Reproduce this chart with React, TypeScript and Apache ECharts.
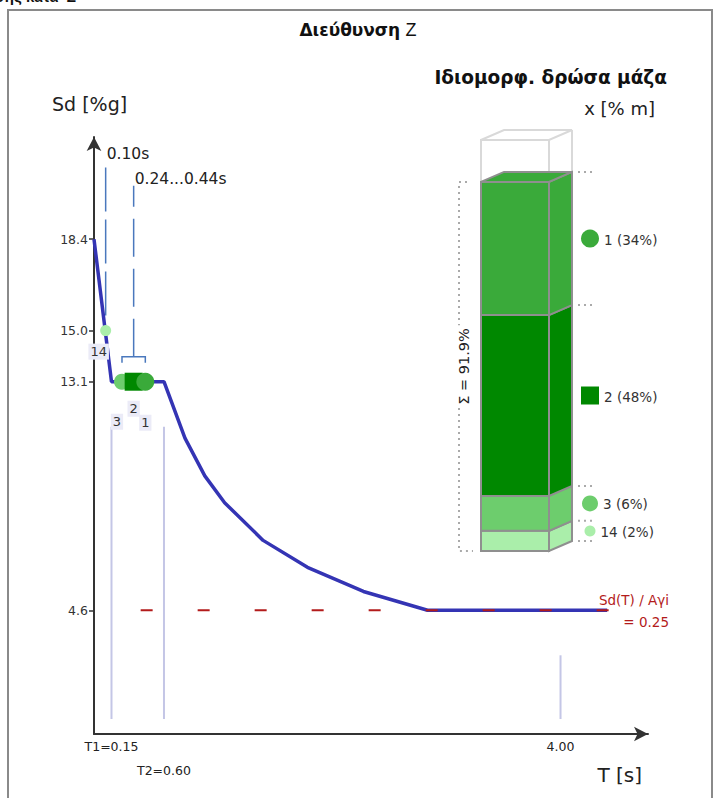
import React, { useEffect, useRef } from "react";
import * as echarts from "echarts";

// ---- spectrum (T [s] -> Sd [%g]) ----
const specT = [0, 0.15, 0.6, 0.78, 0.95, 1.12, 1.45, 1.83, 2.31, 2.86, 4.4];
const specSd = [18.4, 13.1, 13.1, 11.0, 9.6, 8.6, 7.2, 6.2, 5.3, 4.6, 4.6];

// ---- axis ticks ----
const yTickValues = [4.6, 13.1, 15.0, 18.4];
const xTickValues = [0.15, 0.6, 4.0];
const xTickLabels = ["T1=0.15", "T2=0.60", "4.00"];
const xTickLowerRow = [false, true, false];

// ---- modes ----
const modeNames = ["1", "2", "3", "14"];
const modeT = [0.44, 0.34, 0.24, 0.1];
const modeSd = [13.1, 13.1, 13.1, 15.0];
const massPct = [34, 48, 6, 2];
// column segment heights as drawn (% of the box height)
const columnShown = [32.4, 44.0, 8.5, 4.9];
const massSum = 91.9;

// ---- reference level ----
const refLevel = 4.6;
const refRatio = 0.25;
const refSpanT = [0.4, 4.93];

// ---- guide verticals ----
const vLineT = [0.15, 0.6, 4.0];
const vLineSd = [13.1, 13.1, 4.6];

// ---- styles ----
const FONT = "DejaVu Sans, Verdana, sans-serif";
const HEAD = "Liberation Sans, Arial, sans-serif";
const modeColor = ["#3aaa3a", "#008800", "#6dcd6d", "#aaeeaa"];
const modeSymbol = ["circle", "rect", "circle", "circle"];
const modeSize = [18, 18, 16, 11];
const labelOffset = [
  [0, 41],
  [0, 27],
  [-5, 40],
  [-7, 21],
];
const DX = 23;
const DY = -10;

export default function App() {
  const ref = useRef<HTMLDivElement>(null);

  useEffect(() => {
    const chart = echarts.init(ref.current!, null, { renderer: "svg" });

    // stack bottom -> top: 14, 3, 2, 1
    const stackOrder = [3, 2, 1, 0];
    let acc = 0;
    const stackData = stackOrder.map((mi, k) => {
      const base = acc;
      acc += columnShown[mi];
      return [mi, base, acc, k === stackOrder.length - 1 ? 1 : 0];
    });
    const stackTop = acc;

    const scatterSeries = [3, 2, 1, 0].map((i) => ({
      type: "scatter",
      xAxisIndex: 0,
      yAxisIndex: 0,
      z: 5,
      silent: true,
      symbol: modeSymbol[i],
      symbolSize: modeSize[i],
      itemStyle: { color: modeColor[i], opacity: 1 },
      data: [[modeT[i], modeSd[i]]],
      label: {
        show: true,
        position: "inside",
        offset: labelOffset[i],
        formatter: modeNames[i],
        color: "#333",
        fontSize: 13,
        fontFamily: FONT,
        backgroundColor: "#ebebf7",
        padding: [2, 2, 1, 2],
      },
    }));

    const lo = Math.min(modeT[0], modeT[1], modeT[2]);
    const hi = Math.max(modeT[0], modeT[1], modeT[2]);

    const labelFor = (v: number) => {
      const idx = xTickValues.findIndex((t) => Math.abs(t - v) < 1e-6);
      return idx >= 0 ? xTickLabels[idx] : "";
    };
    const upperVals = xTickValues.filter((_, i) => !xTickLowerRow[i]);
    const lowerVals = xTickValues.filter((_, i) => xTickLowerRow[i]);
    const xLabelStyle = {
      showMinLabel: true,
      showMaxLabel: true,
      hideOverlap: false,
      formatter: labelFor,
      fontSize: 12.5,
      color: "#222",
      fontFamily: FONT,
    };

    const option: any = {
      animation: false,
      backgroundColor: "#fff",
      graphic: [
        {
          type: "rect",
          silent: true,
          shape: { x: 8, y: 10, width: 704, height: 800 },
          style: { fill: "none", stroke: "#8a8a8a", lineWidth: 2 },
        },
        {
          type: "text",
          silent: true,
          x: 76,
          y: 4,
          style: {
            text: "Φάσμα απόκρισης κατά  Z",
            fill: "#111",
            fontSize: 15,
            fontWeight: "bold",
            fontFamily: HEAD,
            align: "right",
            verticalAlign: "bottom",
          },
        },
        {
          type: "text",
          silent: true,
          x: 358,
          y: 30,
          style: {
            text: "{b|Διεύθυνση} {z|Z}",
            rich: {
              b: { fontWeight: "bold", fontSize: 17, fontFamily: FONT, fill: "#111" },
              z: { fontSize: 18, fontFamily: HEAD, fill: "#111" },
            },
            fill: "#111",
            fontSize: 17,
            fontFamily: FONT,
            align: "center",
            verticalAlign: "middle",
          },
        },
        {
          type: "text",
          silent: true,
          x: 667,
          y: 77,
          style: {
            text: "Ιδιομορφ. δρώσα μάζα",
            fill: "#111",
            fontSize: 18.5,
            fontWeight: "bold",
            fontFamily: FONT,
            align: "right",
            verticalAlign: "middle",
          },
        },
        {
          type: "text",
          silent: true,
          x: 655,
          y: 108,
          style: {
            text: "x [% m]",
            fill: "#222",
            fontSize: 18,
            fontFamily: FONT,
            align: "right",
            verticalAlign: "middle",
          },
        },
        {
          type: "text",
          silent: true,
          x: 52,
          y: 104,
          style: {
            text: "Sd [%g]",
            fill: "#222",
            fontSize: 19,
            fontFamily: FONT,
            align: "left",
            verticalAlign: "middle",
          },
        },
        {
          type: "text",
          silent: true,
          x: 642,
          y: 775,
          style: {
            text: "T [s]",
            fill: "#222",
            fontSize: 20,
            fontFamily: FONT,
            align: "right",
            verticalAlign: "middle",
          },
        },
      ],
      grid: [
        { left: 94, top: 137, width: 554, height: 597 },
        { left: 481, top: 140, width: 68, height: 411 },
      ],
      xAxis: [
        {
          gridIndex: 0,
          type: "value",
          position: "bottom",
          min: 0,
          max: 4.75,
          axisLine: {
            show: true,
            lineStyle: { color: "#333", width: 2 },
            symbol: ["none", "arrow"],
            symbolSize: [11, 14],
          },
          axisTick: { show: false },
          splitLine: { show: false },
          axisLabel: { ...xLabelStyle, customValues: upperVals, margin: 6 },
        },
        { gridIndex: 1, type: "value", min: 0, max: 1, show: false },
        {
          gridIndex: 0,
          type: "value",
          position: "bottom",
          offset: 0,
          min: 0,
          max: 4.75,
          axisLine: { show: false },
          axisTick: { show: false },
          splitLine: { show: false },
          axisLabel: { ...xLabelStyle, customValues: lowerVals, margin: 30 },
        },
      ],
      yAxis: [
        {
          gridIndex: 0,
          type: "value",
          min: 0,
          max: 22.2,
          axisLine: {
            show: true,
            lineStyle: { color: "#333", width: 2 },
            symbol: ["none", "arrow"],
            symbolSize: [11, 14],
          },
          axisTick: {
            show: true,
            customValues: yTickValues,
            length: 5,
            lineStyle: { color: "#333", width: 1.5 },
          },
          splitLine: { show: false },
          axisLabel: {
            customValues: yTickValues,
            showMinLabel: true,
            showMaxLabel: true,
            formatter: (v: number) => v.toFixed(1),
            margin: 6,
            fontSize: 12.5,
            color: "#333",
            fontFamily: FONT,
          },
        },
        { gridIndex: 1, type: "value", min: 0, max: 100, show: false },
      ],
      series: [
        // guides and annotations on the spectrum
        {
          type: "custom",
          xAxisIndex: 0,
          yAxisIndex: 0,
          z: 1,
          silent: true,
          data: [[0, 0]],
          renderItem: (_p: any, api: any) => {
            const children: any[] = [];
            vLineT.forEach((t, i) => {
              const a = api.coord([t, vLineSd[i]]);
              const b = api.coord([t, 0]);
              children.push({
                type: "line",
                shape: { x1: a[0], y1: a[1] + 45, x2: b[0], y2: b[1] - 15 },
                style: { stroke: "#c4c6e6", lineWidth: 2 },
              });
            });
            // single mode marker line (mode 14)
            const p14 = api.coord([modeT[3], modeSd[3]]);
            children.push({
              type: "line",
              shape: { x1: p14[0], y1: p14[1] - 15, x2: p14[0], y2: p14[1] - 168 },
              style: { stroke: "#4a78bd", lineWidth: 1.5, lineDash: [44, 8] },
            });
            children.push({
              type: "text",
              x: p14[0] + 1,
              y: p14[1] - 177,
              style: {
                text: modeT[3].toFixed(2) + "s",
                fill: "#222",
                fontSize: 15.5,
                fontFamily: FONT,
                align: "left",
                verticalAlign: "middle",
              },
            });
            // range bracket
            const pa = api.coord([lo, modeSd[0]]);
            const pb = api.coord([hi, modeSd[0]]);
            const yb = pa[1] - 25;
            const xm = (pa[0] + pb[0]) / 2;
            children.push({
              type: "polyline",
              shape: { points: [[pa[0], yb + 6], [pa[0], yb], [pb[0], yb], [pb[0], yb + 6]] },
              style: { stroke: "#4a78bd", lineWidth: 1.5, fill: "none" },
            });
            children.push({
              type: "line",
              shape: { x1: xm, y1: yb, x2: xm, y2: pa[1] - 196 },
              style: { stroke: "#4a78bd", lineWidth: 1.5, lineDash: [38, 12] },
            });
            children.push({
              type: "text",
              x: xm + 1,
              y: pa[1] - 203,
              style: {
                text: lo.toFixed(2) + "..." + hi.toFixed(2) + "s",
                fill: "#222",
                fontSize: 15.5,
                fontFamily: FONT,
                align: "left",
                verticalAlign: "middle",
              },
            });
            // reference label
            const pr = api.coord([refSpanT[1], refLevel]);
            children.push({
              type: "text",
              x: pr[0],
              y: pr[1] - 10,
              style: {
                text: "Sd(T) / Aγi",
                fill: "#b31b1b",
                fontSize: 13.5,
                fontFamily: FONT,
                align: "right",
                verticalAlign: "middle",
              },
            });
            children.push({
              type: "text",
              x: pr[0],
              y: pr[1] + 12,
              style: {
                text: "= " + refRatio.toFixed(2),
                fill: "#b31b1b",
                fontSize: 13.5,
                fontFamily: FONT,
                align: "right",
                verticalAlign: "middle",
              },
            });
            return { type: "group", children };
          },
        },
        {
          type: "line",
          xAxisIndex: 0,
          yAxisIndex: 0,
          z: 2,
          silent: true,
          showSymbol: false,
          symbol: "none",
          data: specT.map((t, i) => [t, specSd[i]]),
          lineStyle: { color: "#3434b4", width: 3.5 },
        },
        {
          type: "line",
          xAxisIndex: 0,
          yAxisIndex: 0,
          z: 3,
          silent: true,
          clip: false,
          symbol: "none",
          showSymbol: false,
          data: refSpanT.map((t) => [t, refLevel]),
          lineStyle: { color: "#b31b1b", width: 2, type: [12, 45] },
        },
        ...scatterSeries,
        // wireframe box and sum bracket
        {
          type: "custom",
          xAxisIndex: 1,
          yAxisIndex: 1,
          z: 1,
          silent: true,
          data: [[stackTop, 100]],
          renderItem: (_p: any, api: any) => {
            const s = api.value(0);
            const full = api.value(1);
            const pTL = api.coord([0, full]);
            const pBR = api.coord([1, s]);
            const pZero = api.coord([0, 0]);
            const x0 = pTL[0], x1 = pBR[0], yt = pTL[1], ys = pBR[1];
            const stroke = "#d9d9d9";
            const children: any[] = [
              {
                type: "rect",
                shape: { x: x0, y: yt, width: x1 - x0, height: ys - yt },
                style: { fill: "none", stroke, lineWidth: 2 },
              },
              {
                type: "polygon",
                shape: { points: [[x0, yt], [x0 + DX, yt + DY], [x1 + DX, yt + DY], [x1, yt]] },
                style: { fill: "none", stroke, lineWidth: 2 },
              },
              {
                type: "line",
                shape: { x1: x1 + DX, y1: yt + DY, x2: x1 + DX, y2: ys + DY },
                style: { stroke, lineWidth: 2 },
              },
              {
                type: "polyline",
                shape: { points: [[x0 - 14, ys], [x0 - 22, ys], [x0 - 22, pZero[1]], [x0 - 8, pZero[1]]] },
                style: { fill: "none", stroke: "#aaa", lineWidth: 2, lineDash: [2, 4] },
              },
              {
                type: "text",
                x: x0 - 17,
                y: (ys + pZero[1]) / 2,
                rotation: Math.PI / 2,
                style: {
                  text: "Σ = " + massSum.toFixed(1) + "%",
                  fill: "#222",
                  fontSize: 14.5,
                  fontFamily: FONT,
                  align: "center",
                  verticalAlign: "middle",
                  backgroundColor: "#fff",
                  padding: [0, 3],
                },
              },
            ];
            return { type: "group", children };
          },
        },
        // stacked 3D column
        {
          type: "custom",
          xAxisIndex: 1,
          yAxisIndex: 1,
          z: 2,
          silent: true,
          data: stackData,
          renderItem: (_p: any, api: any) => {
            const mi = api.value(0);
            const base = api.value(1);
            const top = api.value(2);
            const isTop = api.value(3) === 1;
            const pBL = api.coord([0, base]);
            const pTR = api.coord([1, top]);
            const x0 = pBL[0], x1 = pTR[0], yb = pBL[1], yt = pTR[1];
            const color = modeColor[mi];
            const edge = "#8f8f8f";
            const children: any[] = [
              {
                type: "rect",
                shape: { x: x0, y: yt, width: x1 - x0, height: yb - yt },
                style: { fill: color, stroke: edge, lineWidth: 2 },
              },
              {
                type: "polygon",
                shape: { points: [[x1, yb], [x1, yt], [x1 + DX, yt + DY], [x1 + DX, yb + DY]] },
                style: { fill: color, stroke: edge, lineWidth: 2 },
              },
              {
                type: "line",
                shape: { x1: x1 + DX + 6, y1: yb + DY, x2: x1 + DX + 24, y2: yb + DY },
                style: { stroke: "#aaa", lineWidth: 2, lineDash: [2, 4] },
              },
            ];
            if (isTop) {
              children.push({
                type: "polygon",
                shape: { points: [[x0, yt], [x0 + DX, yt + DY], [x1 + DX, yt + DY], [x1, yt]] },
                style: { fill: color, stroke: edge, lineWidth: 2 },
              });
              children.push({
                type: "line",
                shape: { x1: x1 + DX + 6, y1: yt + DY, x2: x1 + DX + 24, y2: yt + DY },
                style: { stroke: "#aaa", lineWidth: 2, lineDash: [2, 4] },
              });
            }
            const cx = x1 + DX + 18;
            const cy = (yt + yb) / 2 + DY;
            const sz = modeSize[mi];
            if (modeSymbol[mi] === "rect") {
              children.push({
                type: "rect",
                shape: { x: cx - sz / 2, y: cy - sz / 2, width: sz, height: sz },
                style: { fill: color },
              });
            } else {
              children.push({
                type: "circle",
                shape: { cx, cy, r: sz / 2 },
                style: { fill: color },
              });
            }
            children.push({
              type: "text",
              x: cx + sz / 2 + 5,
              y: cy + 1,
              style: {
                text: modeNames[mi] + " (" + massPct[mi] + "%)",
                fill: "#333",
                fontSize: 13.5,
                fontFamily: FONT,
                align: "left",
                verticalAlign: "middle",
              },
            });
            return { type: "group", children };
          },
        },
      ],
    };

    chart.setOption(option);
    return () => chart.dispose();
  }, []);

  return (
    <div
      ref={ref}
      style={{ position: "absolute", left: 0, top: 0, width: 718, height: 798 }}
    />
  );
}
